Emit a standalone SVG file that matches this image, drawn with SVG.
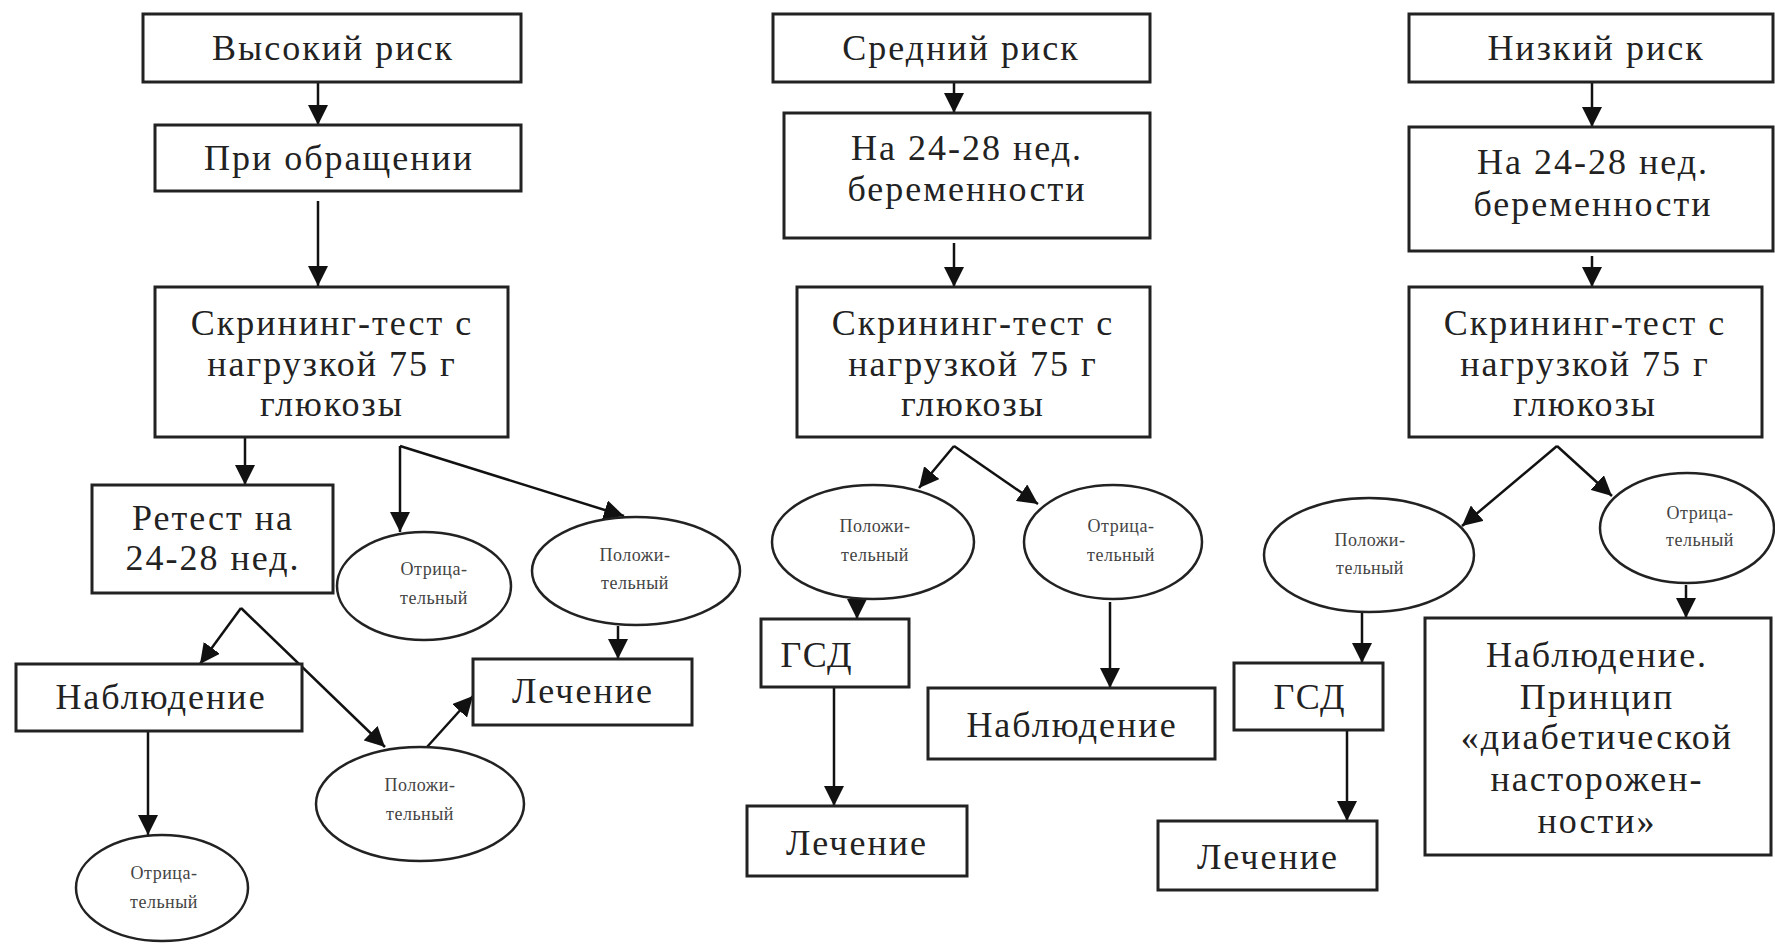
<svg xmlns="http://www.w3.org/2000/svg" width="1775" height="944" viewBox="0 0 1775 944">
<defs>
<marker id="ah" markerUnits="userSpaceOnUse" markerWidth="21" markerHeight="20" refX="20" refY="10" orient="auto">
<path d="M0,0 L20,10 L0,20 z" fill="#111"/>
</marker>
<style>
.box{fill:#fff;stroke:#222;stroke-width:3}
.ell{fill:#fff;stroke:#222;stroke-width:2.5}
.t{font-family:"Liberation Serif","Times New Roman",serif;font-size:36px;letter-spacing:2px;fill:#222;text-anchor:middle}
.s{font-family:"Liberation Serif","Times New Roman",serif;font-size:18px;letter-spacing:0.5px;fill:#444;text-anchor:middle}
.c{fill:none;stroke:#111;stroke-width:2.5;marker-end:url(#ah)}
</style>
</defs>
<rect width="1775" height="944" fill="#fff"/>

<g id="connectors">
<path class="c" d="M318,82 L318,125"/>
<path class="c" d="M318,201 L318,286"/>
<path class="c" d="M245,437 L245,485"/>
<path class="c" d="M241,608 L200,664"/>
<path class="c" d="M241,608 L385,747"/>
<path class="c" d="M148,731 L148,835"/>
<path class="c" d="M427,747 L473,696"/>
<path class="c" d="M400,446 L400,532"/>
<path class="c" d="M400,446 L624,516"/>
<path class="c" d="M618,626 L618,659"/>

<path class="c" d="M954,82 L954,113"/>
<path class="c" d="M954,243 L954,287"/>
<path class="c" d="M954,446 L919,488"/>
<path class="c" d="M954,446 L1038,504"/>
<path class="c" d="M857,600 L857,619"/>
<path class="c" d="M834,687 L834,806"/>
<path class="c" d="M1110,602 L1110,688"/>

<path class="c" d="M1592,82 L1592,127"/>
<path class="c" d="M1592,256 L1592,287"/>
<path class="c" d="M1557,446 L1462,526"/>
<path class="c" d="M1557,446 L1612,496"/>
<path class="c" d="M1362,611 L1362,663"/>
<path class="c" d="M1347,730 L1347,821"/>
<path class="c" d="M1686,585 L1686,618"/>
</g>

<g id="high-risk"><rect class="box" x="143" y="14" width="378" height="68"/><text class="t" x="333" y="60">Высокий риск</text></g>
<g id="on-visit"><rect class="box" x="155" y="125" width="366" height="66"/><text class="t" x="339" y="170">При обращении</text></g>
<g id="screen1"><rect class="box" x="155" y="287" width="353" height="150"/><text class="t" x="332" y="335">Скрининг-тест с</text><text class="t" x="332" y="376">нагрузкой 75 г</text><text class="t" x="332" y="416">глюкозы</text></g>
<g id="retest"><rect class="box" x="92" y="485" width="241" height="108"/><text class="t" x="213" y="530">Ретест на</text><text class="t" x="213" y="570">24-28 нед.</text></g>
<g id="observe1"><rect class="box" x="16" y="664" width="286" height="67"/><text class="t" x="161" y="709">Наблюдение</text></g>
<g id="neg1b"><ellipse class="ell" cx="162" cy="888" rx="86" ry="53"/><text class="s" x="164" y="879">Отрица-</text><text class="s" x="164" y="908">тельный</text></g>
<g id="pos1b"><ellipse class="ell" cx="420" cy="804" rx="104" ry="57"/><text class="s" x="420" y="791">Положи-</text><text class="s" x="420" y="820">тельный</text></g>
<g id="treat1"><rect class="box" x="473" y="659" width="219" height="66"/><text class="t" x="583" y="703">Лечение</text></g>
<g id="neg1a"><ellipse class="ell" cx="424" cy="586" rx="87" ry="54"/><text class="s" x="434" y="575">Отрица-</text><text class="s" x="434" y="604">тельный</text></g>
<g id="pos1a"><ellipse class="ell" cx="636" cy="571" rx="104" ry="54"/><text class="s" x="635" y="561">Положи-</text><text class="s" x="635" y="589">тельный</text></g>

<g id="mid-risk"><rect class="box" x="773" y="14" width="377" height="68"/><text class="t" x="961" y="60">Средний риск</text></g>
<g id="week2"><rect class="box" x="784" y="113" width="366" height="125"/><text class="t" x="967" y="160">На 24-28 нед.</text><text class="t" x="967" y="201">беременности</text></g>
<g id="screen2"><rect class="box" x="797" y="287" width="353" height="150"/><text class="t" x="973" y="335">Скрининг-тест с</text><text class="t" x="973" y="376">нагрузкой 75 г</text><text class="t" x="973" y="416">глюкозы</text></g>
<g id="pos2"><ellipse class="ell" cx="873" cy="542" rx="101" ry="57"/><text class="s" x="875" y="532">Положи-</text><text class="s" x="875" y="561">тельный</text></g>
<g id="neg2"><ellipse class="ell" cx="1113" cy="542" rx="89" ry="57"/><text class="s" x="1121" y="532">Отрица-</text><text class="s" x="1121" y="561">тельный</text></g>
<g id="gsd2"><rect class="box" x="761" y="619" width="148" height="68"/><text class="t" x="817" y="667">ГСД</text></g>
<g id="treat2"><rect class="box" x="747" y="806" width="220" height="70"/><text class="t" x="857" y="855">Лечение</text></g>
<g id="observe2"><rect class="box" x="928" y="688" width="287" height="71"/><text class="t" x="1072" y="737">Наблюдение</text></g>

<g id="low-risk"><rect class="box" x="1409" y="14" width="364" height="68"/><text class="t" x="1596" y="60">Низкий риск</text></g>
<g id="week3"><rect class="box" x="1409" y="127" width="364" height="124"/><text class="t" x="1593" y="174">На 24-28 нед.</text><text class="t" x="1593" y="216">беременности</text></g>
<g id="screen3"><rect class="box" x="1409" y="287" width="353" height="150"/><text class="t" x="1585" y="335">Скрининг-тест с</text><text class="t" x="1585" y="376">нагрузкой 75 г</text><text class="t" x="1585" y="416">глюкозы</text></g>
<g id="pos3"><ellipse class="ell" cx="1369" cy="555" rx="105" ry="57"/><text class="s" x="1370" y="546">Положи-</text><text class="s" x="1370" y="574">тельный</text></g>
<g id="neg3"><ellipse class="ell" cx="1687" cy="528" rx="87" ry="55"/><text class="s" x="1700" y="519">Отрица-</text><text class="s" x="1700" y="546">тельный</text></g>
<g id="gsd3"><rect class="box" x="1234" y="663" width="149" height="67"/><text class="t" x="1310" y="709">ГСД</text></g>
<g id="treat3"><rect class="box" x="1158" y="821" width="219" height="69"/><text class="t" x="1268" y="869">Лечение</text></g>
<g id="observe3"><rect class="box" x="1425" y="618" width="346" height="237"/><text class="t" x="1597" y="667">Наблюдение.</text><text class="t" x="1597" y="709">Принцип</text><text class="t" x="1597" y="749">«диабетической</text><text class="t" x="1597" y="791">насторожен-</text><text class="t" x="1597" y="833">ности»</text></g>
</svg>
